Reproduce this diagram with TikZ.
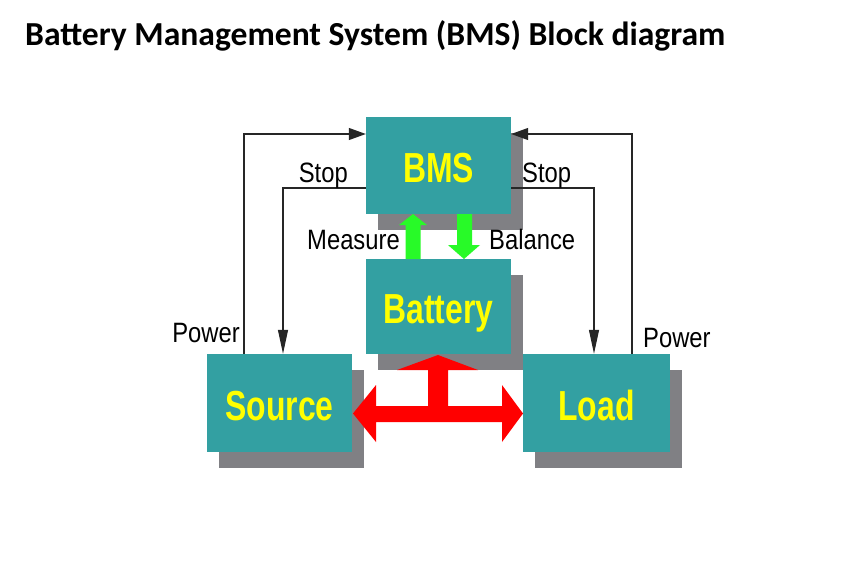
\documentclass[tikz,border=0pt]{standalone}
\usepackage{fontspec}
\setmainfont{Liberation Sans}
\newfontfamily\titlefont{Carlito}
\newfontfamily\boxfont[FakeStretch=0.76]{Liberation Sans}
\newfontfamily\labelfont[FakeStretch=0.85]{Liberation Sans}
\usetikzlibrary{arrows.meta,shadows}
\definecolor{boxteal}{RGB}{51,160,162}
\definecolor{shadowgray}{RGB}{128,128,132}
\definecolor{boxyellow}{RGB}{255,255,0}
\definecolor{arrowgreen}{RGB}{40,250,40}
\definecolor{arrowred}{RGB}{255,0,0}
\tikzset{
  blockbox/.style={fill=boxteal, inner sep=0pt, text=boxyellow,
    font=\boxfont\bfseries\fontsize{42}{42}\selectfont,
    text height=30pt, text depth=0pt,
    general shadow={fill=shadowgray, shadow xshift=12pt, shadow yshift=-16pt}},
  lbl/.style={inner sep=0pt, font=\labelfont\fontsize{28}{28}\selectfont},
  conn/.style={draw=black!85, line width=1.1pt},
  hconn/.style={conn, -{Triangle[length=17pt,width=12pt]}},
  vconn/.style={conn, -{Triangle[length=24pt,width=10pt]}},
}
\begin{document}
\begin{tikzpicture}[x=1pt,y=-1pt]
\useasboundingbox[fill=white] (0,0) rectangle (854,579);
% title
\node[anchor=base west, inner sep=0pt, font=\titlefont\bfseries\fontsize{33.6}{33.6}\selectfont] (title) at (25,45) {Battery Management System (BMS) Block diagram};
% blocks
\node[blockbox, minimum width=145pt, minimum height=97pt] (bms) at (438.5,165.5) {\raisebox{-1.5pt}{BMS}};
\node[blockbox, minimum width=145pt, minimum height=95pt] (battery) at (438.5,306.5) {\raisebox{-1.5pt}{Battery}};
\node[blockbox, minimum width=145pt, minimum height=98pt] (source) at (279.5,403) {\raisebox{-2pt}{Source}};
\node[blockbox, minimum width=147pt, minimum height=98pt] (load) at (596.5,403) {\raisebox{-2pt}{Load}};
% green arrows
\fill[arrowgreen] (405.5,259) -- (405.5,225) -- (399,225) -- (413,214) -- (427,225) -- (420.5,225) -- (420.5,259) -- cycle;
\fill[arrowgreen] (457,214) -- (457,245) -- (448,245) -- (464,259) -- (480,245) -- (472,245) -- (472,214) -- cycle;
% red arrow
\fill[arrowred] (438,355) -- (478,370) -- (448,370) -- (448,406) -- (502,406) -- (502,385) -- (523,413.5) -- (502,442) -- (502,422) -- (376,422) -- (376,442) -- (353,413.5) -- (376,385) -- (376,406) -- (428,406) -- (428,370) -- (397,370) -- cycle;
% connector corners
\coordinate (pl) at (244,134);
\coordinate (sl) at (283,188);
\coordinate (sr) at (594,188);
\coordinate (pr) at (632,134);
\draw[hconn] (source.north -| pl) |- (bms.west |- pl);
\draw[vconn] (bms.west |- sl) -| (source.north -| sl);
\draw[vconn] (bms.east |- sr) -| (load.north -| sr);
\draw[hconn] (load.north -| pr) |- (bms.east |- pr);
% labels
\node[lbl, anchor=base east] (stopl) at (348,182) {Stop};
\node[lbl, anchor=base west] (stopr) at (522,182) {Stop};
\node[lbl, anchor=base east] (measure) at (400,249) {Measure};
\node[lbl, anchor=base west] (balance) at (489,249) {Balance};
\node[lbl, anchor=base east] (powerl) at (240,342) {Power};
\node[lbl, anchor=base west] (powerr) at (643,347) {Power};
\end{tikzpicture}
\end{document}
